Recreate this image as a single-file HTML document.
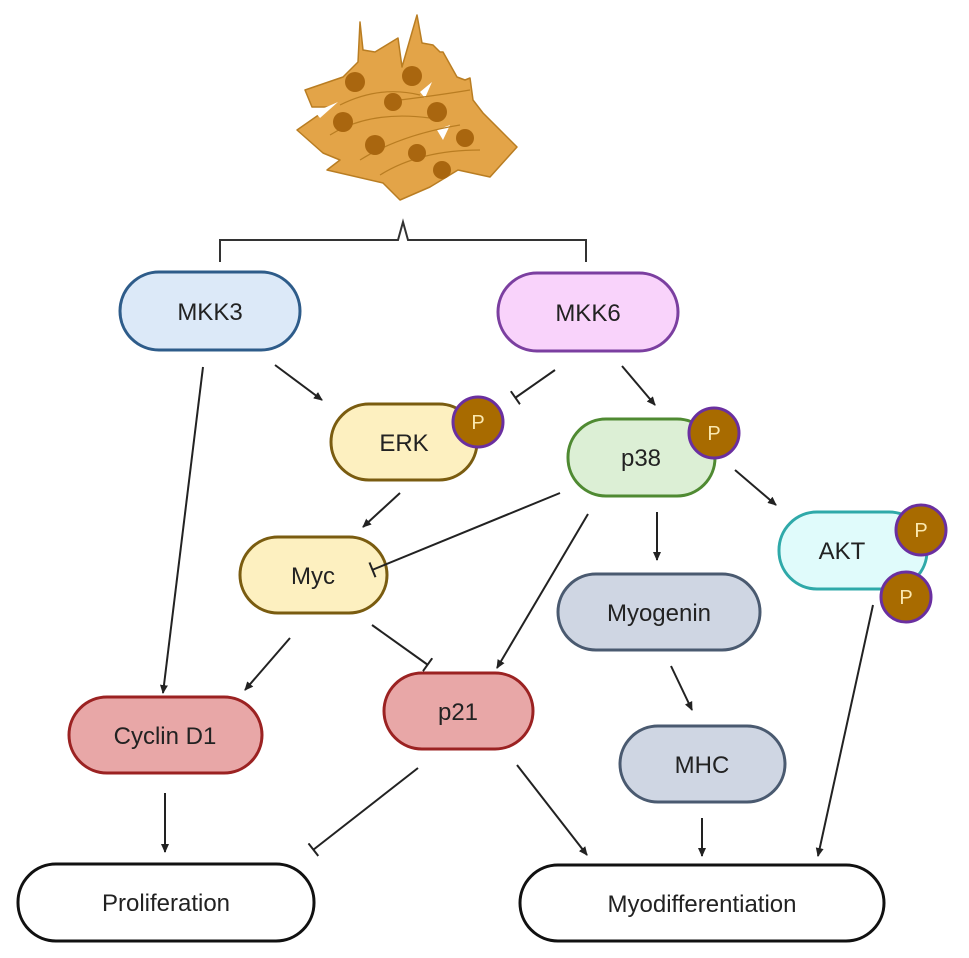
<!DOCTYPE html>
<html><head><meta charset="utf-8"><style>body{margin:0;background:#fff}svg{display:block}text{font-family:"Liberation Sans",sans-serif;fill:#222}</style></head><body>
<svg width="969" height="958" viewBox="0 0 969 958" xmlns="http://www.w3.org/2000/svg">
<defs>
<marker id="a" markerWidth="10" markerHeight="10" refX="8" refY="5" orient="auto" markerUnits="userSpaceOnUse"><path d="M0,1 L9,5 L0,9 z" fill="#222"/></marker>
<marker id="t" markerWidth="4" markerHeight="16" refX="2" refY="8" orient="auto" markerUnits="userSpaceOnUse"><rect x="0.5" y="0" width="2" height="16" fill="#222"/></marker>
</defs>
<!-- cells -->
<path d="M360,22 L363,50 L375,52 L398,38 L402,67 L417,15 L422,43 L433,45 L440,52 L443,52 L457,77 L465,80 L470,78 L473,100 L483,113 L517,147 L490,177 L458,170 L430,187 L400,200 L390,190 L383,183 L327,170 L340,160 L323,153 L297,130 L330,107 L312,107 L305,90 L343,77 L358,62 Z" fill="#e3a448" stroke="#b97d22" stroke-width="1.5" stroke-linejoin="round"/>
<g fill="#fff"><path d="M420,92 L432,82 L425,98 Z"/><path d="M437,130 L450,125 L443,140 Z"/><path d="M315,112 L338,102 L320,118 Z"/></g>
<g fill="none" stroke="#b97d22" stroke-width="1.2">
<path d="M340,105 Q380,85 420,95"/><path d="M330,135 Q370,110 430,118"/><path d="M360,160 Q400,135 460,125"/><path d="M380,175 Q420,150 480,150"/><path d="M400,100 Q440,95 470,90"/>
</g>
<g fill="#a9660f">
<circle cx="355" cy="82" r="10"/><circle cx="412" cy="76" r="10"/><circle cx="393" cy="102" r="9"/>
<circle cx="343" cy="122" r="10"/><circle cx="437" cy="112" r="10"/><circle cx="375" cy="145" r="10"/>
<circle cx="465" cy="138" r="9"/><circle cx="417" cy="153" r="9"/><circle cx="442" cy="170" r="9"/>
</g>
<!-- bracket -->
<path d="M220,262 L220,240 L398,240 L403,222 L408,240 L586,240 L586,262" fill="none" stroke="#333" stroke-width="2"/>
<!-- nodes -->
<g stroke-width="3">
<rect x="120" y="272" width="180" height="78" rx="39" fill="#dce9f8" stroke="#2e5c8a"/>
<rect x="498" y="273" width="180" height="78" rx="39" fill="#f9d3fb" stroke="#7b3fa0"/>
<rect x="331" y="404" width="146" height="76" rx="38" fill="#fdf0c0" stroke="#7a5c10"/>
<rect x="568" y="419" width="147" height="77" rx="38" fill="#dcefd5" stroke="#4f8a32"/>
<rect x="779" y="512" width="148" height="77" rx="38" fill="#e0fbfb" stroke="#2fa9a9"/>
<rect x="240" y="537" width="147" height="76" rx="38" fill="#fdf0c0" stroke="#7a5c10"/>
<rect x="558" y="574" width="202" height="76" rx="38" fill="#cfd6e3" stroke="#4a5a70"/>
<rect x="69" y="697" width="193" height="76" rx="38" fill="#e8a7a7" stroke="#9b2222"/>
<rect x="384" y="673" width="149" height="76" rx="38" fill="#e8a7a7" stroke="#9b2222"/>
<rect x="620" y="726" width="165" height="76" rx="38" fill="#cfd6e3" stroke="#4a5a70"/>
<rect x="18" y="864" width="296" height="77" rx="38" fill="#fff" stroke="#111"/>
<rect x="520" y="865" width="364" height="76" rx="38" fill="#fff" stroke="#111"/>
</g>
<g fill="#a86b00" stroke="#6a2fa0" stroke-width="3">
<circle cx="478" cy="422" r="25"/><circle cx="714" cy="433" r="25"/><circle cx="921" cy="530" r="25"/><circle cx="906" cy="597" r="25"/>
</g>
<g font-size="20" text-anchor="middle">
<text x="478" y="429" style="fill:#fbe9b0">P</text><text x="714" y="440" style="fill:#fbe9b0">P</text><text x="921" y="537" style="fill:#fbe9b0">P</text><text x="906" y="604" style="fill:#fbe9b0">P</text>
</g>
<g font-size="24" text-anchor="middle">
<text x="210" y="320">MKK3</text>
<text x="588" y="321">MKK6</text>
<text x="404" y="451">ERK</text>
<text x="641" y="466">p38</text>
<text x="842" y="559">AKT</text>
<text x="313" y="584">Myc</text>
<text x="659" y="621">Myogenin</text>
<text x="165" y="744">Cyclin D1</text>
<text x="458" y="720">p21</text>
<text x="702" y="773">MHC</text>
<text x="166" y="911">Proliferation</text>
<text x="702" y="912">Myodifferentiation</text>
</g>
<!-- connectors -->
<g stroke="#222" stroke-width="2" fill="none">
<line x1="203" y1="367" x2="163" y2="693" marker-end="url(#a)"/>
<line x1="275" y1="365" x2="322" y2="400" marker-end="url(#a)"/>
<line x1="555" y1="370" x2="515" y2="398" marker-end="url(#t)"/>
<line x1="622" y1="366" x2="655" y2="405" marker-end="url(#a)"/>
<line x1="400" y1="493" x2="363" y2="527" marker-end="url(#a)"/>
<line x1="560" y1="493" x2="372" y2="570" marker-end="url(#t)"/>
<line x1="588" y1="514" x2="497" y2="668" marker-end="url(#a)"/>
<line x1="657" y1="512" x2="657" y2="560" marker-end="url(#a)"/>
<line x1="735" y1="470" x2="776" y2="505" marker-end="url(#a)"/>
<line x1="290" y1="638" x2="245" y2="690" marker-end="url(#a)"/>
<line x1="372" y1="625" x2="428" y2="665" marker-end="url(#t)"/>
<line x1="671" y1="666" x2="692" y2="710" marker-end="url(#a)"/>
<line x1="165" y1="793" x2="165" y2="852" marker-end="url(#a)"/>
<line x1="418" y1="768" x2="313" y2="850" marker-end="url(#t)"/>
<line x1="517" y1="765" x2="587" y2="855" marker-end="url(#a)"/>
<line x1="702" y1="818" x2="702" y2="856" marker-end="url(#a)"/>
<line x1="873" y1="605" x2="818" y2="856" marker-end="url(#a)"/>
</g>
</svg>
</body></html>
